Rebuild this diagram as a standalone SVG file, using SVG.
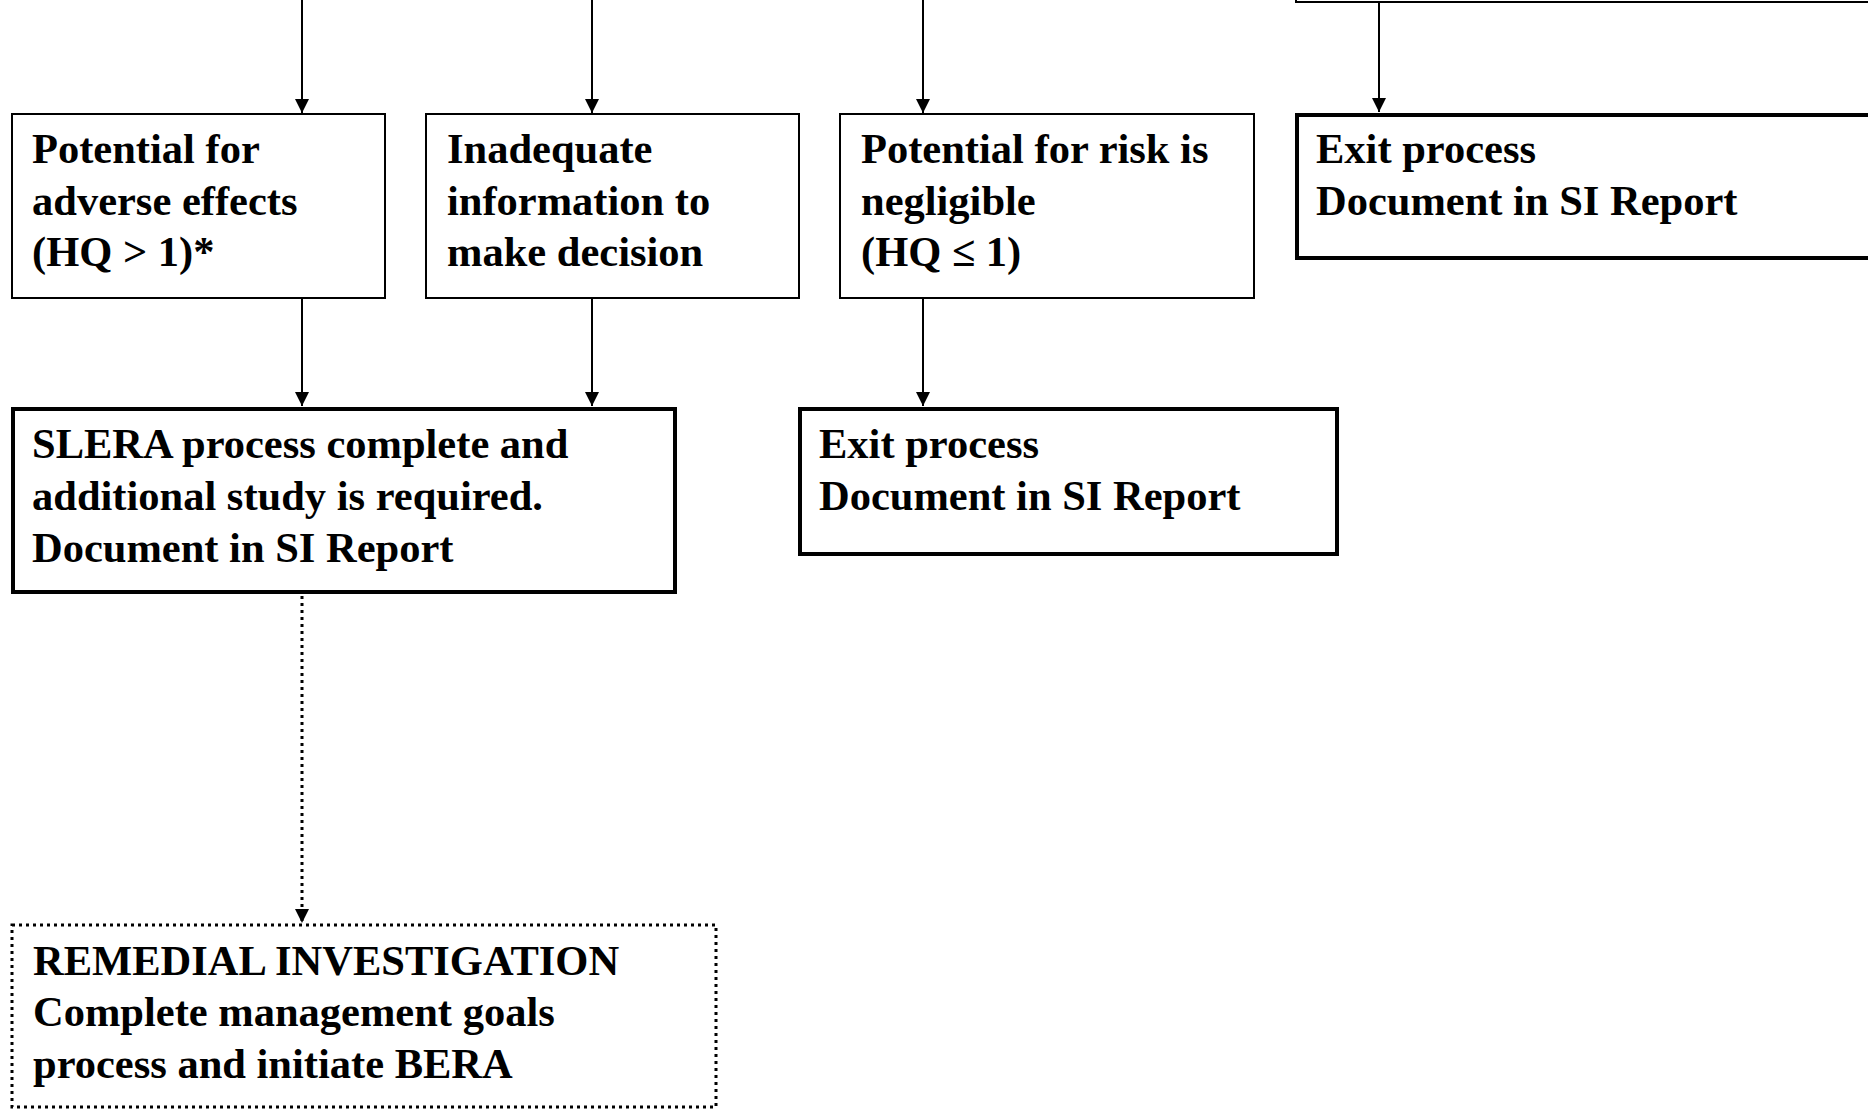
<svg xmlns="http://www.w3.org/2000/svg" width="1868" height="1109" viewBox="0 0 1868 1109">
<style>
text{font-family:"Liberation Serif","Times New Roman",serif;font-weight:bold;font-size:42.5px;fill:#000}
.thin{fill:#fff;stroke:#000;stroke-width:2}
.thick{fill:#fff;stroke:#000;stroke-width:4}
.dot{fill:#fff;stroke:#000;stroke-width:3;stroke-dasharray:3 4}
.conn{stroke:#000;stroke-width:2;fill:none}
.dconn{stroke:#000;stroke-width:3;fill:none;stroke-dasharray:3 4}
</style>
<defs>
<marker id="ah" viewBox="0 0 14 14" refX="14" refY="7" markerWidth="14" markerHeight="14" markerUnits="userSpaceOnUse" orient="auto">
<path d="M0,0 L14,7 L0,14 z" fill="#000"/>
</marker>
</defs>
<rect width="1868" height="1109" fill="#fff"/>
<g id="connectors">
<line class="conn" x1="302" y1="0" x2="302" y2="113" marker-end="url(#ah)"/>
<line class="conn" x1="592" y1="0" x2="592" y2="113" marker-end="url(#ah)"/>
<line class="conn" x1="923" y1="0" x2="923" y2="113" marker-end="url(#ah)"/>
<line class="conn" x1="1379" y1="3" x2="1379" y2="112" marker-end="url(#ah)"/>
<line class="conn" x1="302" y1="298" x2="302" y2="406" marker-end="url(#ah)"/>
<line class="conn" x1="592" y1="298" x2="592" y2="406" marker-end="url(#ah)"/>
<line class="conn" x1="923" y1="298" x2="923" y2="406" marker-end="url(#ah)"/>
<line class="dconn" x1="302" y1="596" x2="302" y2="923" marker-end="url(#ah)"/>
</g>
<g id="top-box">
<rect class="thin" x="1296" y="-50" width="700" height="52"/>
</g>
<g id="n-adverse">
<rect class="thin" x="12" y="114" width="373" height="184"/>
<text x="32" y="163">Potential for</text>
<text x="32" y="214.5">adverse effects</text>
<text x="32" y="266">(HQ &gt; 1)*</text>
</g>
<g id="n-inadequate">
<rect class="thin" x="426" y="114" width="373" height="184"/>
<text x="447" y="163">Inadequate</text>
<text x="447" y="214.5">information to</text>
<text x="447" y="266">make decision</text>
</g>
<g id="n-negligible">
<rect class="thin" x="840" y="114" width="414" height="184"/>
<text x="861" y="163">Potential for risk is</text>
<text x="861" y="214.5">negligible</text>
<text x="861" y="266">(HQ ≤ 1)</text>
</g>
<g id="n-exit1">
<rect class="thick" x="1297" y="115" width="700" height="143"/>
<text x="1316" y="163">Exit process</text>
<text x="1316" y="214.5">Document in SI Report</text>
</g>
<g id="n-slera">
<rect class="thick" x="13" y="409" width="662" height="183"/>
<text x="32" y="458">SLERA process complete and</text>
<text x="32" y="510">additional study is required.</text>
<text x="32" y="562">Document in SI Report</text>
</g>
<g id="n-exit2">
<rect class="thick" x="800" y="409" width="537" height="145"/>
<text x="819" y="458">Exit process</text>
<text x="819" y="510">Document in SI Report</text>
</g>
<g id="n-ri">
<rect class="dot" x="12" y="925" width="704" height="182"/>
<text x="33" y="975">REMEDIAL INVESTIGATION</text>
<text x="33" y="1026">Complete management goals</text>
<text x="33" y="1078">process and initiate BERA</text>
</g>
</svg>
